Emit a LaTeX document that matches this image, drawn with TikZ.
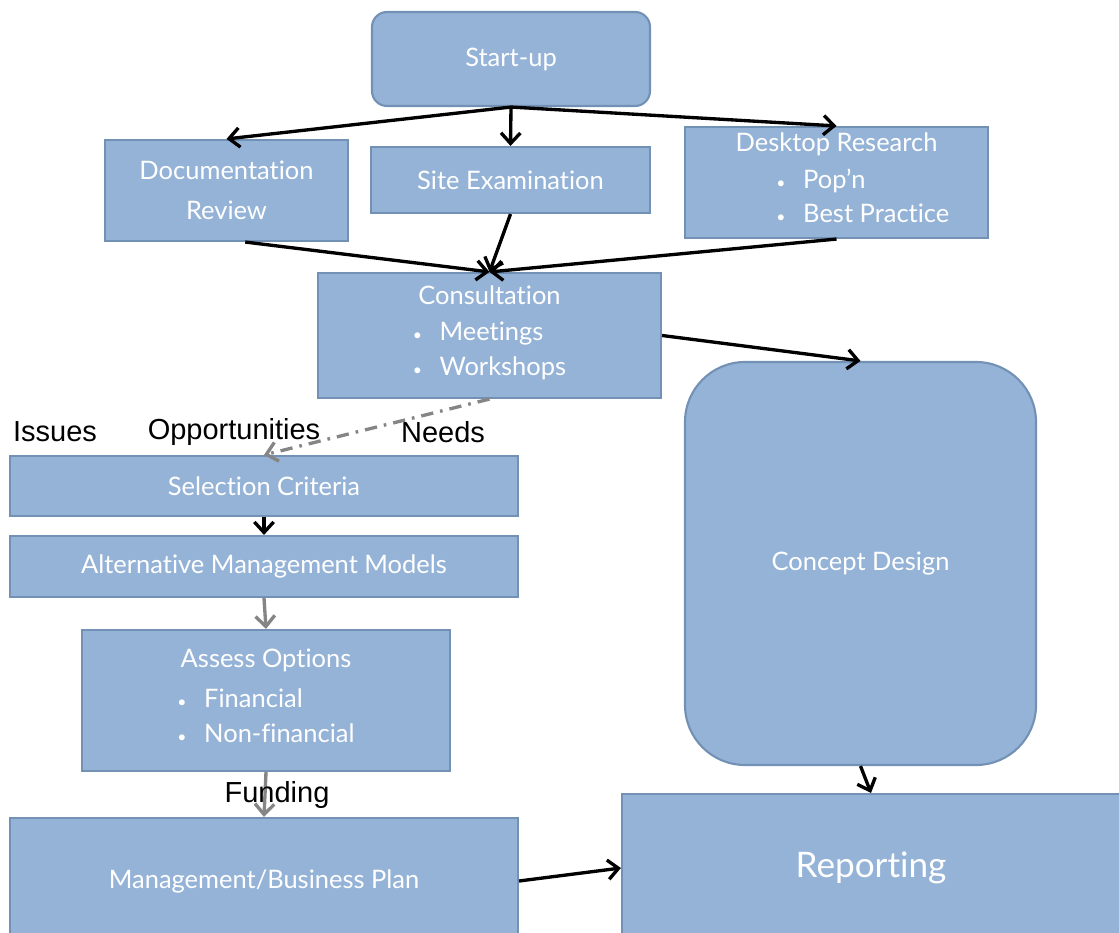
\documentclass[tikz,border=0pt]{standalone}
\usepackage{fontspec}
\setmainfont{Lato}[Ligatures=NoCommon]
\newfontfamily\lblfont{Liberation Sans}
\usetikzlibrary{arrows.meta}

\definecolor{boxblue}{HTML}{95B3D7}
\definecolor{boxline}{HTML}{7391B5}
\definecolor{arrgray}{HTML}{858585}

\newcommand{\bitems}[1]{\begin{tabular}{@{}l@{\hspace{10pt}}l@{}}#1\end{tabular}}

\begin{document}
\begin{tikzpicture}[
        >={Straight Barb[length=6pt,width=11pt]},
        bx/.style={draw=boxline, fill=boxblue, line width=1.2pt, text=white,
                   align=center, inner sep=2pt, font=\fontsize{14.5}{19.5}\selectfont},
        e/.style={->, line width=1.9pt},
        g/.style={->, line width=1.9pt, draw=arrgray},
        lbl/.style={font=\lblfont\fontsize{16.5}{19}\selectfont}
    ]
        \useasboundingbox (0,0) rectangle (22.38,-18.66);

        % top row
        \node[bx, rounded corners=0.3cm, minimum width=5.56cm, minimum height=1.88cm] (start) at (10.22,-1.18) {Start-up};
        \node[bx, minimum width=4.86cm, minimum height=2.02cm] (docrev) at (4.53,-3.81) {Documentation\\[3pt]Review};
        \node[bx, minimum width=5.58cm, minimum height=1.32cm] (siteex) at (10.21,-3.6) {Site Examination};
        \node[bx, minimum width=6.06cm, minimum height=2.22cm] (desk) at (16.73,-3.65)
            {Desktop Research\\[4pt]\hspace*{30pt}\bitems{{\small\textbullet} & Pop'n\\ {\small\textbullet} & Best Practice}};
        \node[bx, minimum width=6.86cm, minimum height=2.5cm] (consult) at (9.79,-6.71)
            {Consultation\\[6pt]\bitems{{\small\textbullet} & Meetings\\ {\small\textbullet} & Workshops}};

        % left column
        \node[bx, minimum width=10.16cm, minimum height=1.2cm] (selcrit) at (5.28,-9.72) {Selection Criteria};
        \node[bx, minimum width=10.16cm, minimum height=1.22cm] (altmod) at (5.28,-11.33) {Alternative Management Models};
        \node[bx, minimum width=7.36cm, minimum height=2.82cm] (assess) at (5.32,-14.01)
            {Assess Options\\[6pt]\bitems{{\small\textbullet} & Financial\\ {\small\textbullet} & Non-financial}};
        \node[bx, minimum width=10.16cm, minimum height=2.52cm] (mgmt) at (5.28,-17.62) {Management/Business Plan};

        % right column
        \node[bx, rounded corners=1.2cm, minimum width=7.02cm, minimum height=8.06cm] (concept) at (17.21,-11.27) {Concept Design};
        \node[bx, minimum width=9.96cm, minimum height=2.96cm, font=\fontsize{20}{24}\selectfont] (report) at (17.42,-17.36) {Reporting};

        % labels
        \node[lbl] (issues) at (1.1,-8.64) {Issues};
        \node[lbl] (opps) at (4.68,-8.64) {Opportunities};
        \node[lbl] (needs) at (8.86,-8.64) {Needs};

        \draw[e] (start.south) -- (docrev.north);
        \draw[e] (start.south) -- (siteex.north);
        \draw[e] (start.south) -- (desk.north);
        \draw[e] (docrev.-70) -- (consult.north);
        \draw[e] (siteex.south) -- (consult.north);
        \draw[e] (desk.south) -- (consult.north);
        \draw[e] (consult.east) -- (concept.north);
        \draw[g, dash pattern=on 7pt off 4pt on 1.5pt off 4pt] (consult.south) -- (selcrit.north);
        \draw[e] (selcrit.south) -- (altmod.north);
        \draw[g] (altmod.south) -- (assess.north);
        \draw[g] (assess.south) -- (mgmt.north) node[lbl, text=black, midway, xshift=0.24cm] (fund) {Funding};
        \draw[e] (concept.south) -- (report.north);
        \draw[e] (mgmt.east) -- (report.west);
    \end{tikzpicture}
\end{document}
